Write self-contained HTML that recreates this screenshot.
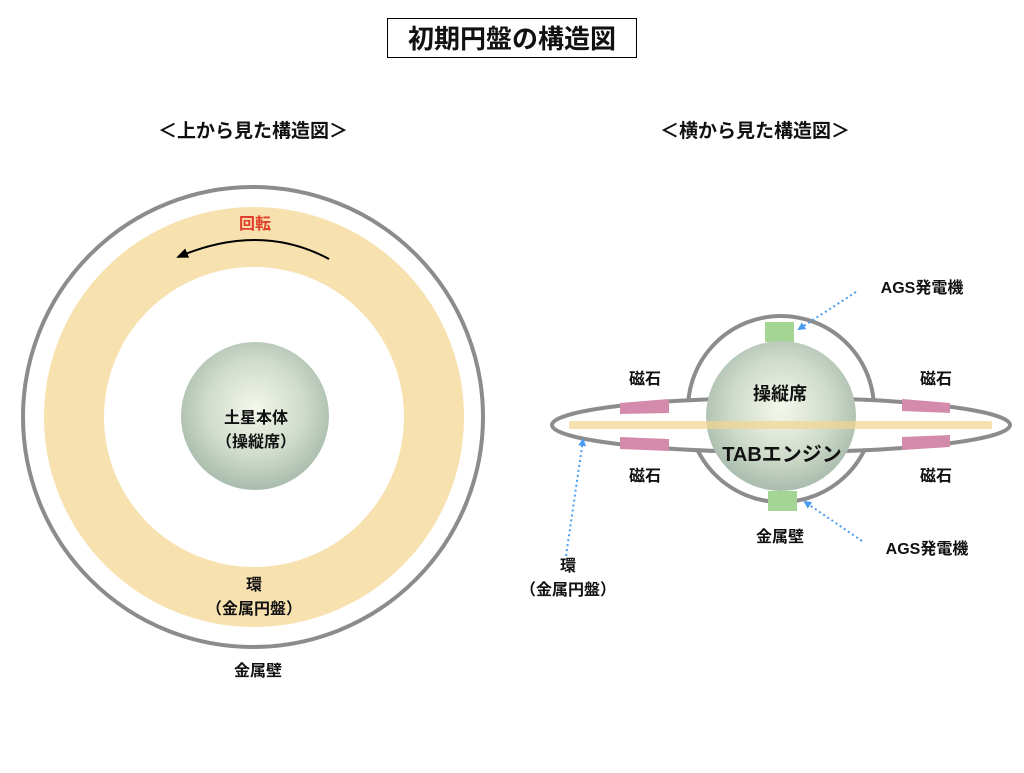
<!DOCTYPE html>
<html><head><meta charset="utf-8"><style>
body{margin:0;background:#fff}
svg text{font-family:"Liberation Sans","Noto Sans CJK JP",sans-serif;font-weight:bold;fill:#111}
</style></head><body>
<svg width="1024" height="768" viewBox="0 0 1024 768" xmlns="http://www.w3.org/2000/svg">
<defs>
<radialGradient id="g" cx="50%" cy="45%" r="55%">
<stop offset="0" stop-color="#f4f8ec"/><stop offset="0.6" stop-color="#cfdbcb"/><stop offset="1" stop-color="#a9bcad"/>
</radialGradient>
<marker id="ab" markerWidth="8" markerHeight="8" refX="6" refY="4" orient="auto" markerUnits="userSpaceOnUse"><path d="M0,0 L8,4 L0,8z" fill="#4a9cf0"/></marker>
<marker id="ak" markerWidth="12" markerHeight="10" refX="10" refY="5" orient="auto" markerUnits="userSpaceOnUse"><path d="M0,0 L12,5 L0,10z" fill="#000"/></marker>
</defs>
<rect x="387.5" y="18.5" width="249" height="39" fill="#fff" stroke="#000"/>
<text x="512" y="48" font-size="26" text-anchor="middle">初期円盤の構造図</text>
<text x="253" y="137" font-size="19" text-anchor="middle">＜上から見た構造図＞</text>
<text x="755" y="137" font-size="19" text-anchor="middle">＜横から見た構造図＞</text>
<!-- left -->
<circle cx="253" cy="417" r="230" fill="#fff" stroke="#8c8c8c" stroke-width="4"/>
<circle cx="254" cy="417" r="180" fill="none" stroke="#f7e1af" stroke-width="60"/>
<circle cx="255" cy="416" r="74" fill="url(#g)"/>
<path d="M329,259 Q260,222 178,257" fill="none" stroke="#000" stroke-width="2" marker-end="url(#ak)"/>
<text x="255" y="229" font-size="16" text-anchor="middle" style="fill:#e0402a">回転</text>
<text x="256" y="423" font-size="16" text-anchor="middle">土星本体</text>
<text x="256" y="447" font-size="16" text-anchor="middle">（操縦席）</text>
<text x="254" y="590" font-size="16" text-anchor="middle">環</text>
<text x="254" y="614" font-size="16" text-anchor="middle">（金属円盤）</text>
<text x="258" y="676" font-size="16" text-anchor="middle">金属壁</text>
<!-- right -->
<circle cx="781" cy="409" r="93" fill="#fff" stroke="#8c8c8c" stroke-width="4"/>
<ellipse cx="781" cy="425" rx="229" ry="27" fill="#fff" stroke="#8c8c8c" stroke-width="4"/>
<polygon points="620,403 669,399 669,413 620,414" fill="#d38aab"/>
<polygon points="620,437 669,439 669,451 620,449" fill="#d38aab"/>
<polygon points="902,399 950,403 950,413 902,411" fill="#d38aab"/>
<polygon points="902,437 950,435 950,447 902,450" fill="#d38aab"/>
<rect x="765" y="322" width="29" height="20" fill="#a5d594"/>
<rect x="768" y="491" width="29" height="20" fill="#a5d594"/>
<circle cx="781" cy="416" r="75" fill="url(#g)"/>
<rect x="569" y="421" width="423" height="8" fill="#f2d690" opacity="0.7"/>
<text x="780" y="400" font-size="18" text-anchor="middle">操縦席</text>
<text x="782" y="461" font-size="20" text-anchor="middle">TABエンジン</text>
<text x="645" y="384" font-size="16" text-anchor="middle">磁石</text>
<text x="645" y="481" font-size="16" text-anchor="middle">磁石</text>
<text x="936" y="384" font-size="16" text-anchor="middle">磁石</text>
<text x="936" y="481" font-size="16" text-anchor="middle">磁石</text>
<text x="922" y="293" font-size="16" text-anchor="middle">AGS発電機</text>
<text x="927" y="554" font-size="16" text-anchor="middle">AGS発電機</text>
<text x="780" y="542" font-size="16" text-anchor="middle">金属壁</text>
<text x="568" y="571" font-size="16" text-anchor="middle">環</text>
<text x="568" y="595" font-size="16" text-anchor="middle">（金属円盤）</text>
<g stroke="#4a9cf0" stroke-width="2" stroke-dasharray="2,3" fill="none">
<path d="M856,292 L799,329" marker-end="url(#ab)"/>
<path d="M862,541 L805,502" marker-end="url(#ab)"/>
<path d="M566,556 L583,440" marker-end="url(#ab)"/>
</g>
</svg>
</body></html>
